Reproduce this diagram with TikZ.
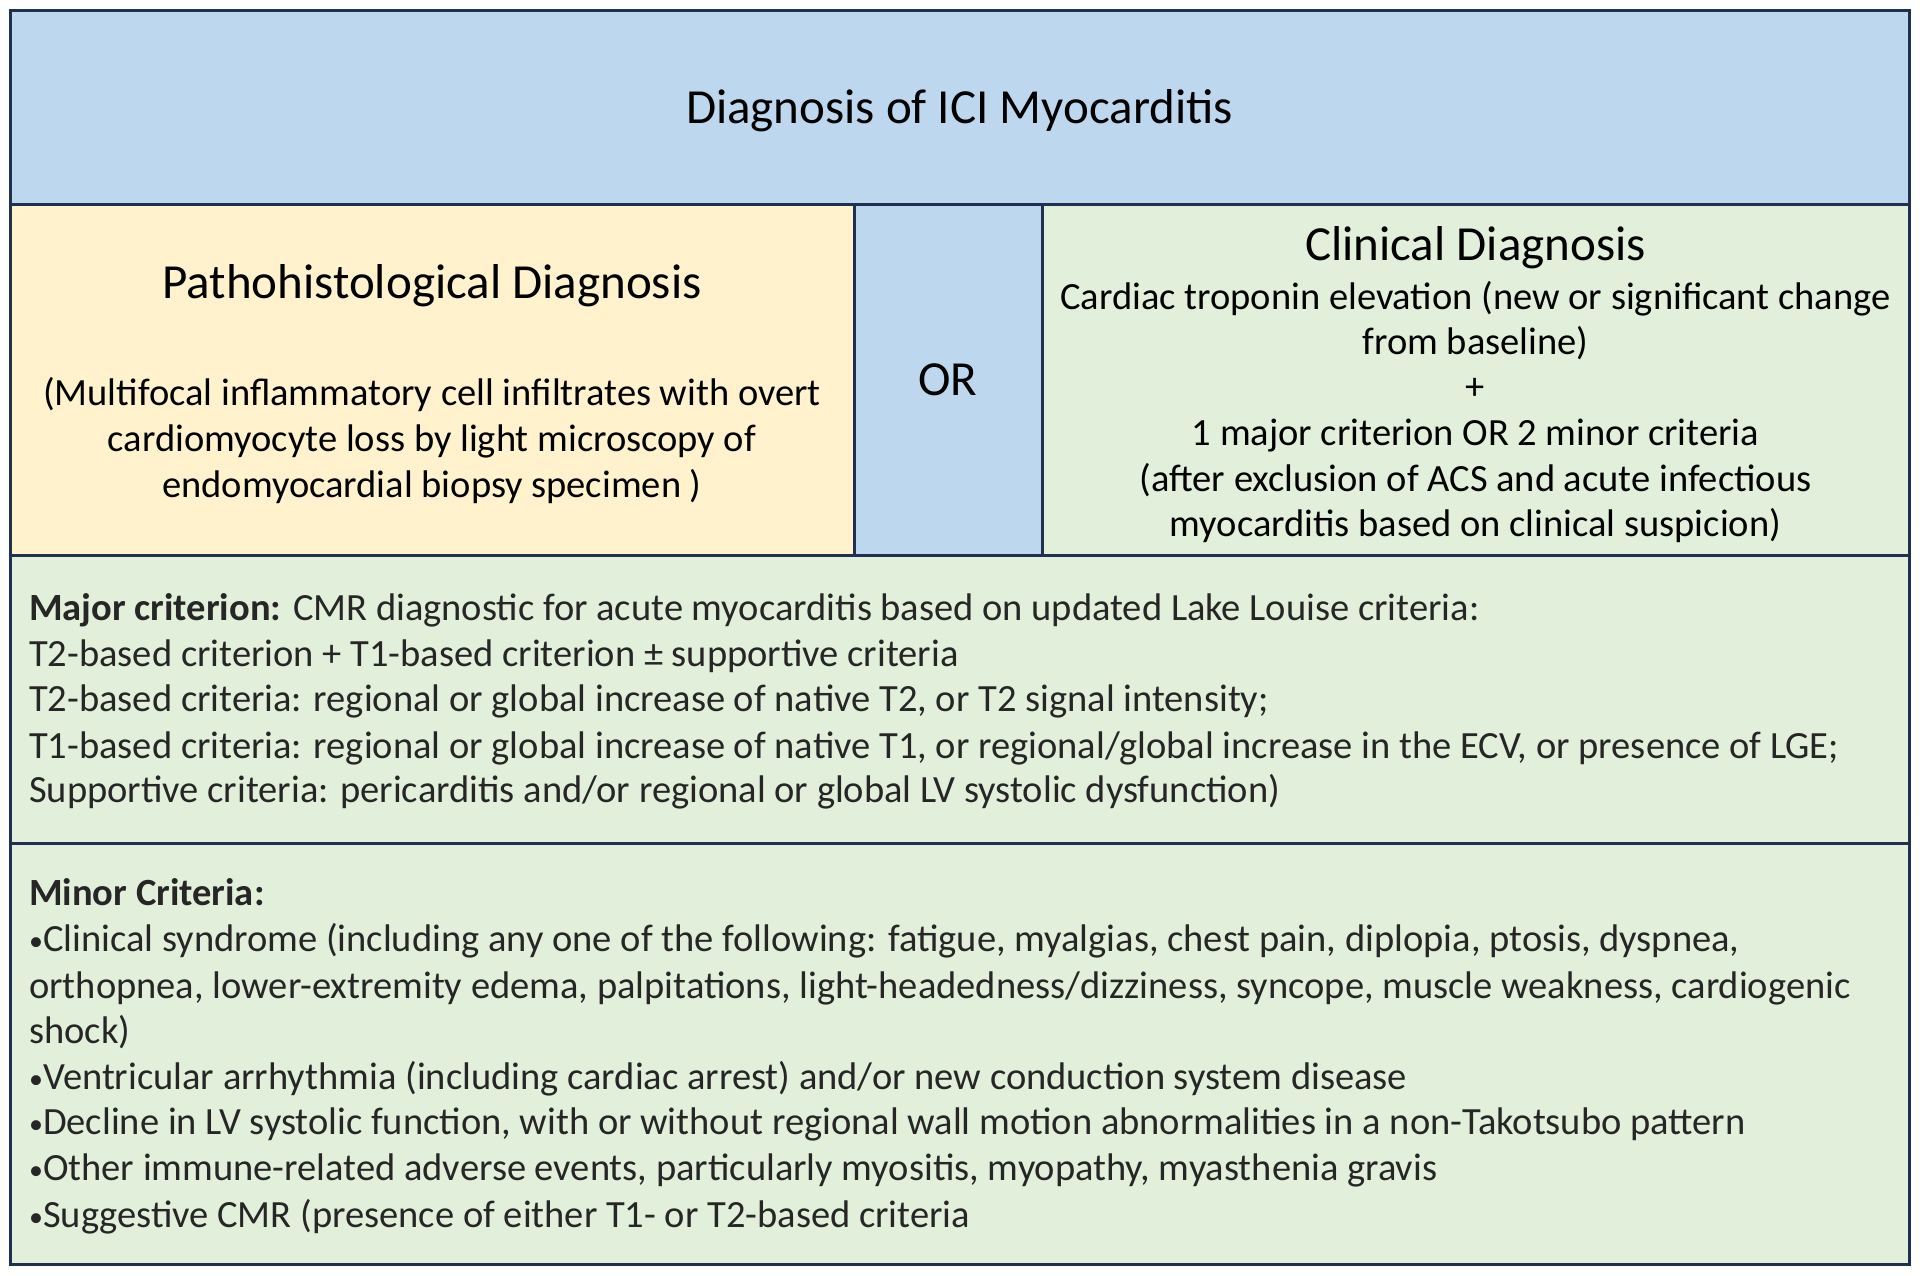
\documentclass[tikz,border=0pt]{standalone}
\usepackage{fontspec}
\setmainfont{Carlito}
\definecolor{tblue}{HTML}{BDD7EE}
\definecolor{tyel}{HTML}{FFF2CC}
\definecolor{tgreen}{HTML}{E2EFDA}
\definecolor{tline}{HTML}{1F3050}
\definecolor{ttext}{HTML}{262626}
\newcommand\mybul{{\fontsize{28}{28}\selectfont\raisebox{1.5pt}{•}}}
\begin{document}
\begin{tikzpicture}[x=1pt,y=-1pt,
  cell/.style={draw=tline,line width=3pt},
  base/.style={inner sep=0pt,text height=7.5pt,text depth=2.5pt},
  body/.style={base,font=\fontsize{38.5}{44}\selectfont},
  lline/.style={body,anchor=west,text=ttext},
  cline/.style={body,anchor=center,text=black},
  head/.style={base,anchor=center,font=\fontsize{49}{56}\selectfont,text=black}]
\useasboundingbox (0,0) rectangle (1920,1275);
\fill[white] (0,0) rectangle (1920,1275);
% cells
\path[cell,fill=tblue] (10,10) rectangle (1909,204);
\path[cell,fill=tyel] (10,204) rectangle (854,555);
\path[cell,fill=tgreen] (1042,204) rectangle (1909,555);
\path[cell,fill=tblue] (854,204) rectangle (1042,555);
\path[cell,fill=tgreen] (10,555) rectangle (1909,843);
\path[cell,fill=tgreen] (10,843) rectangle (1909,1264);
% title
\node[head] (title) at (959.5,121) {Diagnosis of ICI Myocarditis};
% left
\node[head] (patho) at (432,296) {Pathohistological Diagnosis};
\node[cline] (p1) at (432,403) {(Multifocal inflammatory cell infiltrates with overt};
\node[cline] (p2) at (432,449) {cardiomyocyte loss by light microscopy of};
\node[cline] (p3) at (432,495) {endomyocardial biopsy specimen )};
% or
\node[head] (or) at (948,393) {OR};
% right
\node[head] (clin) at (1475.5,258) {Clinical Diagnosis};
\node[cline] (c1) at (1475.5,307) {Cardiac troponin elevation (new or significant change};
\node[cline] (c2) at (1475.5,352) {from baseline)};
\node[cline] (c3) at (1475.5,397) {+};
\node[cline] (c4) at (1475.5,443) {1 major criterion OR 2 minor criteria};
\node[cline] (c5) at (1475.5,489) {(after exclusion of ACS and acute infectious};
\node[cline] (c6) at (1475.5,534) {myocarditis based on clinical suspicion)};
% major
\node[lline] (m1) at (29,618) {\textbf{Major criterion:} CMR diagnostic for acute myocarditis based on updated Lake Louise criteria:};
\node[lline] (m2) at (29,664) {T2-based criterion + T1-based criterion ± supportive criteria};
\node[lline] (m3) at (29,709) {T2-based criteria: regional or global increase of native T2, or T2 signal intensity;};
\node[lline] (m4) at (29,756) {T1-based criteria: regional or global increase of native T1, or regional/global increase in the ECV, or presence of LGE;};
\node[lline] (m5) at (29,800) {Supportive criteria: pericarditis and/or regional or global LV systolic dysfunction)};
% minor
\node[lline] (n0) at (29,903) {\textbf{Minor Criteria:}};
\node[lline] (n1) at (29,949) {\mybul Clinical syndrome (including any one of the following: fatigue, myalgias, chest pain, diplopia, ptosis, dyspnea,};
\node[lline] (n2) at (29,996) {orthopnea, lower-extremity edema, palpitations, light-headedness/dizziness, syncope, muscle weakness, cardiogenic};
\node[lline] (n3) at (29,1041) {shock)};
\node[lline] (n4) at (29,1087) {\mybul Ventricular arrhythmia (including cardiac arrest) and/or new conduction system disease};
\node[lline] (n5) at (29,1132) {\mybul Decline in LV systolic function, with or without regional wall motion abnormalities in a non-Takotsubo pattern};
\node[lline] (n6) at (29,1178) {\mybul Other immune-related adverse events, particularly myositis, myopathy, myasthenia gravis};
\node[lline] (n7) at (29,1225) {\mybul Suggestive CMR (presence of either T1- or T2-based criteria};
\end{tikzpicture}
\end{document}
